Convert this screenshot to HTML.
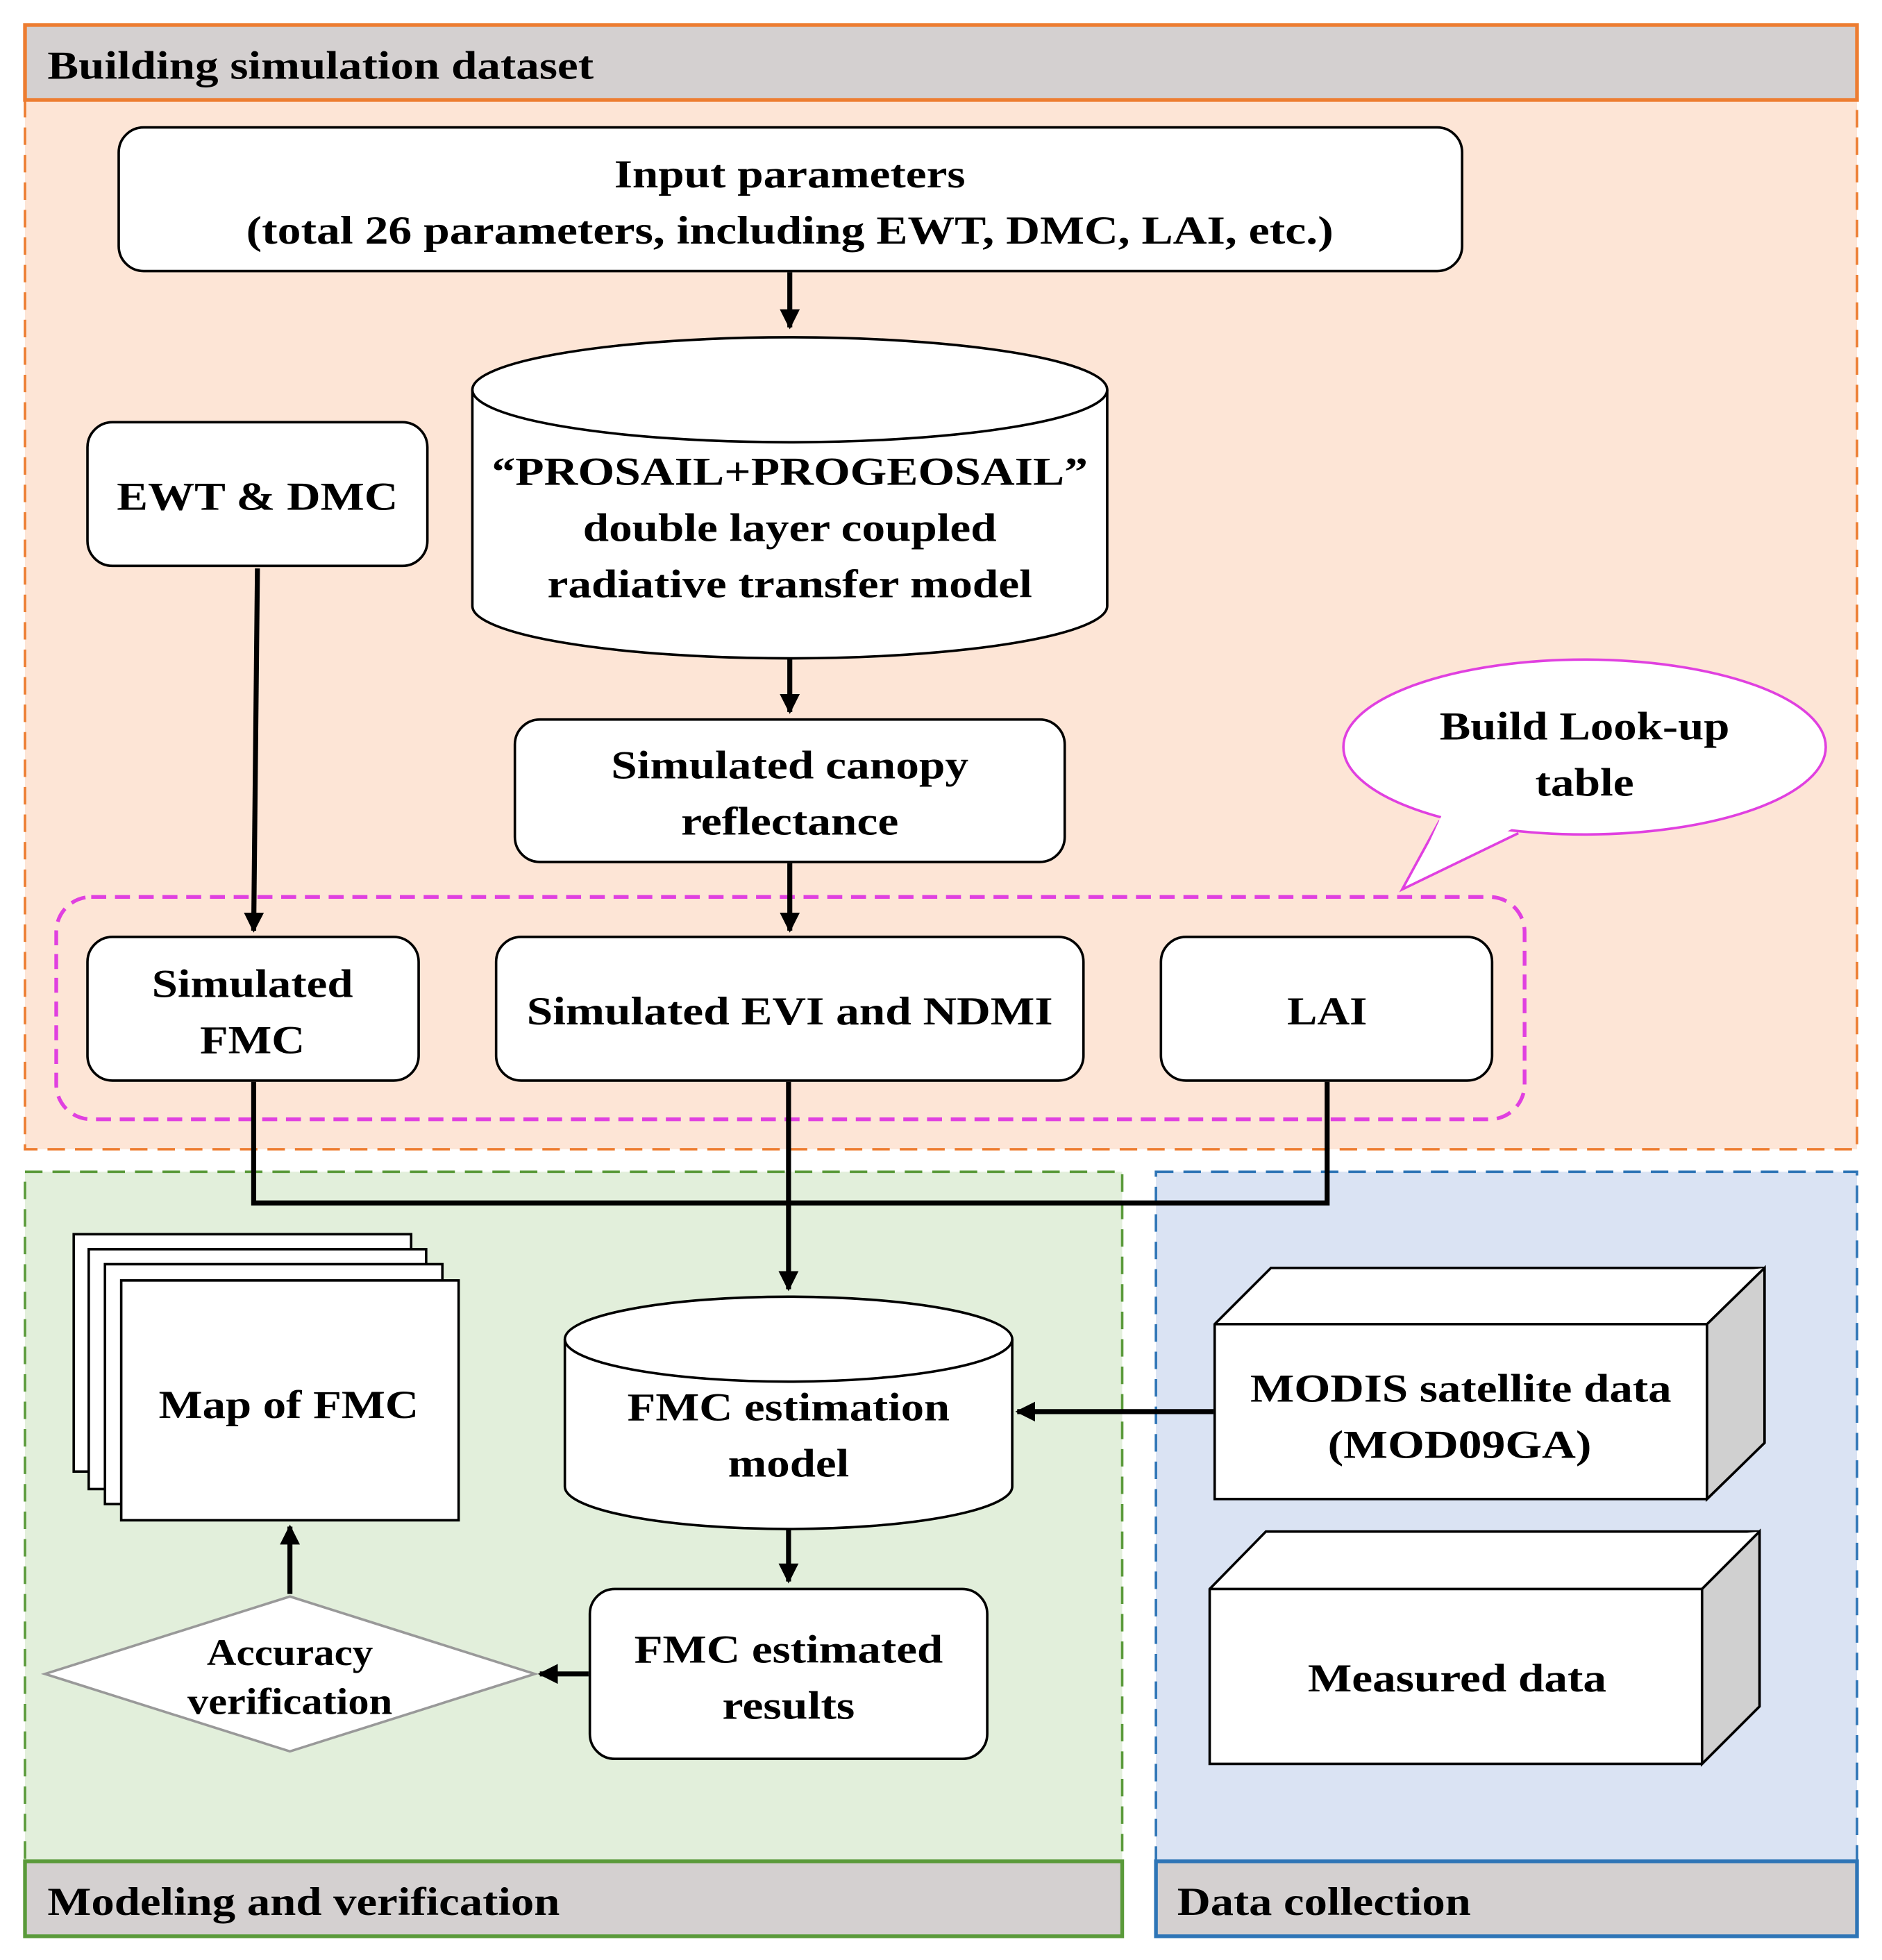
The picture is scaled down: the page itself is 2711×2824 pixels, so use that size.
<!DOCTYPE html>
<html><head><meta charset="utf-8"><style>html,body{margin:0;padding:0;background:#fff}svg{display:block}text{font-family:"Liberation Serif",serif;font-weight:bold;fill:#000;text-anchor:middle}</style></head>
<body>
<svg width="2711" height="2824" viewBox="0 0 1506 1569" preserveAspectRatio="none" xmlns="http://www.w3.org/2000/svg">
<defs>
<marker id="b" viewBox="0 0 10 10" markerWidth="16" markerHeight="16" refX="9" refY="5" orient="auto" markerUnits="userSpaceOnUse"><path d="M0,0 L10,5 L0,10 z" fill="#000"/></marker></defs>
<rect x="20" y="80" width="1466" height="840" fill="#fde5d6" stroke="#ed7d31" stroke-width="2" stroke-dasharray="14,8"/>
<rect x="20" y="20" width="1466" height="60" fill="#d4d0d0" stroke="#ed7d31" stroke-width="3"/>
<text x="38" y="63" style="text-anchor:start" font-size="32" textLength="437" lengthAdjust="spacingAndGlyphs">Building simulation dataset</text>
<rect x="20" y="938" width="878" height="552" fill="#e2efdb" stroke="#5a9a3a" stroke-width="2" stroke-dasharray="14,8"/>
<rect x="20" y="1490" width="878" height="60" fill="#d4d0d0" stroke="#5a9a3a" stroke-width="3"/>
<text x="38" y="1533" style="text-anchor:start" font-size="32" textLength="410" lengthAdjust="spacingAndGlyphs">Modeling and verification</text>
<rect x="925" y="938" width="561" height="552" fill="#dae3f3" stroke="#2e75b6" stroke-width="2" stroke-dasharray="14,8"/>
<rect x="925" y="1490" width="561" height="60" fill="#d4d0d0" stroke="#2e75b6" stroke-width="3"/>
<text x="942" y="1533" style="text-anchor:start" font-size="32" textLength="235" lengthAdjust="spacingAndGlyphs">Data collection</text>
<g stroke="#000" stroke-width="2" fill="#fff">
<rect x="95" y="102" width="1075" height="115" rx="20"/>
<rect x="70" y="338" width="272" height="115" rx="20"/>
<rect x="412" y="576" width="440" height="114" rx="20"/>
<rect x="70" y="750" width="265" height="115" rx="20"/>
<rect x="397" y="750" width="470" height="115" rx="20"/>
<rect x="929" y="750" width="265" height="115" rx="20"/>
<rect x="472" y="1272" width="318" height="136" rx="20"/>
<path d="M378,312 L378,485 A254,42 0 0 0 886,485 L886,312" />
<ellipse cx="632" cy="312" rx="254" ry="42"/>
<path d="M452,1072 L452,1190 A179,34 0 0 0 810,1190 L810,1072"/>
<ellipse cx="631" cy="1072" rx="179" ry="34"/>
</g>
<rect x="45" y="718" width="1175" height="178" rx="28" fill="none" stroke="#e040e0" stroke-width="3" stroke-dasharray="12,7"/>
<ellipse cx="1268" cy="598" rx="193" ry="70" fill="#fff" stroke="#e040e0" stroke-width="2"/>
<path d="M1152,657 L1122,712 L1215,667" fill="#fff" stroke="#e040e0" stroke-width="2"/>
<path d="M1154,652 L1130,704 L1213,662 Z" fill="#fff"/>
<text x="1268" y="592" font-size="32" textLength="232" lengthAdjust="spacingAndGlyphs">Build Look-up</text>
<text x="1268" y="637" font-size="32" textLength="79" lengthAdjust="spacingAndGlyphs">table</text>
<g stroke="#000" stroke-width="2" fill="#fff">
<rect x="59" y="988" width="270" height="190"/>
<rect x="71" y="1000" width="270" height="192"/>
<rect x="84" y="1012" width="270" height="192"/>
<rect x="97" y="1025" width="270" height="192"/>
<path d="M972,1060 L1017,1015 L1412,1015 L1412,1155 L1366,1200 L972,1200 Z"/>
<path d="M972,1060 L1366,1060 L1412,1015 M1366,1060 L1366,1200"/>
<path d="M1366,1060 L1412,1015 L1412,1155 L1366,1200 Z" fill="#d0d0d0"/>
<path d="M968,1272 L1013,1226 L1408,1226 L1408,1366 L1362,1412 L968,1412 Z"/>
<path d="M968,1272 L1362,1272 L1408,1226 M1362,1272 L1362,1412"/>
<path d="M1362,1272 L1408,1226 L1408,1366 L1362,1412 Z" fill="#d0d0d0"/>
</g>
<path d="M232,1278 L428,1340 L232,1402 L36,1340 Z" fill="#fff" stroke="#999" stroke-width="2"/>
<g stroke="#000" stroke-width="4" fill="none">
<line x1="632" y1="218" x2="632" y2="262" marker-end="url(#b)"/>
<line x1="632" y1="527" x2="632" y2="570" marker-end="url(#b)"/>
<line x1="632" y1="691" x2="632" y2="745" marker-end="url(#b)"/>
<line x1="206" y1="455" x2="203" y2="745" marker-end="url(#b)"/>
<path d="M203,866 L203,963 L1062,963 L1062,866"/>
<line x1="631" y1="866" x2="631" y2="1032" marker-end="url(#b)"/>
<line x1="971" y1="1130" x2="814" y2="1130" marker-end="url(#b)"/>
<line x1="631" y1="1224" x2="631" y2="1266" marker-end="url(#b)"/>
<line x1="471" y1="1340" x2="432" y2="1340" marker-end="url(#b)"/>
<line x1="232" y1="1276" x2="232" y2="1222" marker-end="url(#b)"/>
</g>
<g font-size="32" lengthAdjust="spacingAndGlyphs">
<text x="632" y="150" textLength="281" lengthAdjust="spacingAndGlyphs">Input parameters</text>
<text x="632" y="195" textLength="870" lengthAdjust="spacingAndGlyphs">(total 26 parameters, including EWT, DMC, LAI, etc.)</text>
<text x="206" y="408" textLength="225" lengthAdjust="spacingAndGlyphs">EWT &amp; DMC</text>
<text x="632" y="388" textLength="477" lengthAdjust="spacingAndGlyphs">“PROSAIL+PROGEOSAIL”</text>
<text x="632" y="433" textLength="331" lengthAdjust="spacingAndGlyphs">double layer coupled</text>
<text x="632" y="478" textLength="388" lengthAdjust="spacingAndGlyphs">radiative transfer model</text>
<text x="632" y="623" textLength="286" lengthAdjust="spacingAndGlyphs">Simulated canopy</text>
<text x="632" y="668" textLength="174" lengthAdjust="spacingAndGlyphs">reflectance</text>
<text x="202" y="798" textLength="161" lengthAdjust="spacingAndGlyphs">Simulated</text>
<text x="202" y="843" textLength="84" lengthAdjust="spacingAndGlyphs">FMC</text>
<text x="632" y="820" textLength="421" lengthAdjust="spacingAndGlyphs">Simulated EVI and NDMI</text>
<text x="1062" y="820" textLength="64" lengthAdjust="spacingAndGlyphs">LAI</text>
<text x="231" y="1135" textLength="208" lengthAdjust="spacingAndGlyphs">Map of FMC</text>
<text x="631" y="1137" textLength="258" lengthAdjust="spacingAndGlyphs">FMC estimation</text>
<text x="631" y="1182" textLength="97" lengthAdjust="spacingAndGlyphs">model</text>
<text x="1169" y="1122" textLength="337" lengthAdjust="spacingAndGlyphs">MODIS satellite data</text>
<text x="1168" y="1167" textLength="211" lengthAdjust="spacingAndGlyphs">(MOD09GA)</text>
<text x="1166" y="1354" textLength="239" lengthAdjust="spacingAndGlyphs">Measured data</text>
<text x="631" y="1331" textLength="247" lengthAdjust="spacingAndGlyphs">FMC estimated</text>
<text x="631" y="1376" textLength="106" lengthAdjust="spacingAndGlyphs">results</text>
<text x="232" y="1333" font-size="30" textLength="133" lengthAdjust="spacingAndGlyphs">Accuracy</text>
<text x="232" y="1372" font-size="30" textLength="164" lengthAdjust="spacingAndGlyphs">verification</text>
</g>
</svg>
</body></html>
